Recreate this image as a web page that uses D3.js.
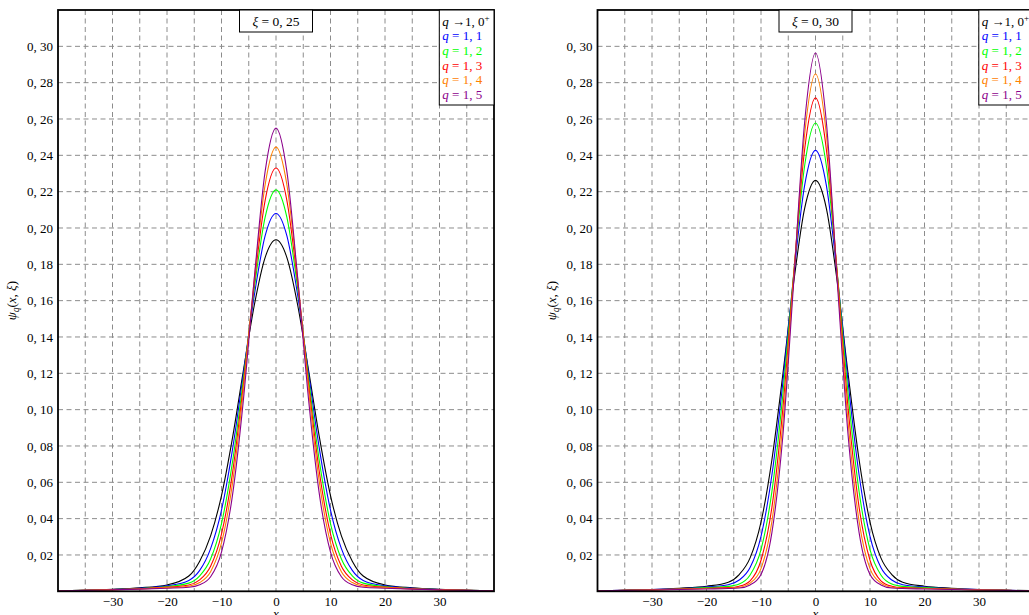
<!DOCTYPE html>
<html>
<head>
<meta charset="utf-8">
<script src="https://cdn.jsdelivr.net/npm/d3@7"></script>
<style>
  body { margin: 0; background: #fff; }
  svg text { font-family: "Liberation Serif", "DejaVu Serif", serif; }
</style>
</head>
<body>
<div class="chart"></div>
<script>
var svgWidth = 1029;
var svgHeight = 615;

// half-curves (x >= 0), the curves are symmetric about x = 0
var xs = [0, 2, 4, 6, 8, 10, 12, 14, 16, 20, 25, 30, 35, 40];

// xi = 0,25
var psi25_q10 = [0.1935, 0.1837, 0.1572, 0.1212, 0.0842, 0.0527, 0.0305, 0.0166, 0.0084, 0.0035, 0.0019, 0.0011, 0.0006, 0.0003];
var psi25_q11 = [0.2080, 0.1956, 0.1626, 0.1195, 0.0777, 0.0447, 0.0235, 0.0115, 0.0060, 0.0030, 0.0017, 0.0010, 0.0006, 0.0003];
var psi25_q12 = [0.2210, 0.2058, 0.1663, 0.1165, 0.0708, 0.0373, 0.0178, 0.0085, 0.0045, 0.0026, 0.0015, 0.0009, 0.0005, 0.0003];
var psi25_q13 = [0.2330, 0.2151, 0.1692, 0.1134, 0.0648, 0.0315, 0.0138, 0.0063, 0.0035, 0.0023, 0.0014, 0.0009, 0.0005, 0.0003];
var psi25_q14 = [0.2445, 0.2237, 0.1715, 0.1101, 0.0591, 0.0266, 0.0108, 0.0048, 0.0028, 0.0020, 0.0013, 0.0008, 0.0005, 0.0003];
var psi25_q15 = [0.2550, 0.2310, 0.1718, 0.1048, 0.0525, 0.0216, 0.0080, 0.0036, 0.0022, 0.0017, 0.0012, 0.0008, 0.0005, 0.0003];

// xi = 0,30
var psi30_q10 = [0.2262, 0.2107, 0.1701, 0.1192, 0.0724, 0.0381, 0.0184, 0.0092, 0.0050, 0.0028, 0.0017, 0.0010, 0.0006, 0.0003];
var psi30_q11 = [0.2427, 0.2233, 0.1739, 0.1147, 0.0640, 0.0303, 0.0131, 0.0062, 0.0036, 0.0024, 0.0015, 0.0009, 0.0005, 0.0003];
var psi30_q12 = [0.2578, 0.2341, 0.1751, 0.1080, 0.0549, 0.0230, 0.0090, 0.0040, 0.0027, 0.0020, 0.0013, 0.0008, 0.0005, 0.0003];
var psi30_q13 = [0.2716, 0.2431, 0.1744, 0.1003, 0.0462, 0.0171, 0.0058, 0.0028, 0.0020, 0.0017, 0.0012, 0.0008, 0.0005, 0.0003];
var psi30_q14 = [0.2849, 0.2514, 0.1728, 0.0925, 0.0385, 0.0125, 0.0045, 0.0022, 0.0017, 0.0015, 0.0011, 0.0008, 0.0005, 0.0003];
var psi30_q15 = [0.2963, 0.2580, 0.1703, 0.0852, 0.0323, 0.0093, 0.0035, 0.0018, 0.0015, 0.0013, 0.0010, 0.0007, 0.0005, 0.0003];

var qValues = ["1, 1", "1, 2", "1, 3", "1, 4", "1, 5"];
var seriesColors = ["#000000", "#0000ff", "#00ff00", "#ff0000", "#ff8000", "#8b008b"];

var yTicks = [0.02, 0.04, 0.06, 0.08, 0.10, 0.12, 0.14, 0.16, 0.18, 0.20, 0.22, 0.24, 0.26, 0.28, 0.30];
var xTicks = [-30, -20, -10, 0, 10, 20, 30];
var xGrid = [-35, -30, -25, -20, -15, -10, -5, 0, 5, 10, 15, 20, 25, 30, 35];

var panels = [
  { left: 58, xi: "0, 25", series: [psi25_q10, psi25_q11, psi25_q12, psi25_q13, psi25_q14, psi25_q15] },
  { left: 597.5, xi: "0, 30", series: [psi30_q10, psi30_q11, psi30_q12, psi30_q13, psi30_q14, psi30_q15] }
];

var plotTop = 10;
var width = 436;
var height = 581.3;

var svg = d3.select(".chart")
  .append("svg")
  .attr("width", svgWidth)
  .attr("height", svgHeight);

var fmtY = function(d) { return d3.format(".2f")(d).replace(".", ", "); };
var fmtX = function(d) { return d < 0 ? "\u2212" + Math.abs(d) : String(d); };

panels.forEach(function(p, pi) {
  var g = svg.append("g")
    .attr("transform", `translate(${p.left}, ${plotTop})`);

  var xScale = d3.scaleLinear().domain([-40, 40]).range([0, width]);
  var yScale = d3.scaleLinear().domain([0, 0.32]).range([height, 0]);

  // dashed grid
  g.append("g").selectAll("line")
    .data(xGrid)
    .enter()
    .append("line")
    .attr("x1", d => xScale(d)).attr("x2", d => xScale(d))
    .attr("y1", 0).attr("y2", height)
    .attr("stroke", "#8c8c8c")
    .attr("stroke-width", 1)
    .attr("stroke-dasharray", "5,3.5");

  g.append("g").selectAll("line")
    .data(yTicks)
    .enter()
    .append("line")
    .attr("x1", 0).attr("x2", width)
    .attr("y1", d => yScale(d)).attr("y2", d => yScale(d))
    .attr("stroke", "#8c8c8c")
    .attr("stroke-width", 1)
    .attr("stroke-dasharray", "5,3.5");

  // axes (labels only)
  var leftAxis = d3.axisLeft(yScale).tickValues(yTicks).tickFormat(fmtY).tickSize(0).tickPadding(5);
  var bottomAxis = d3.axisBottom(xScale).tickValues(xTicks).tickFormat(fmtX).tickSize(0).tickPadding(5);

  var ya = g.append("g").call(leftAxis);
  var xa = g.append("g").attr("transform", `translate(0, ${height})`).call(bottomAxis);
  [ya, xa].forEach(function(a) {
    a.select(".domain").remove();
    a.selectAll("text")
      .attr("font-size", 13)
      .attr("fill", "#000");
  });

  // curves
  g.append("clipPath").attr("id", "clip" + pi)
    .append("rect").attr("width", width).attr("height", height);

  var line = d3.line()
    .x(d => xScale(d[0]))
    .y(d => yScale(d[1]))
    .curve(d3.curveMonotoneX);

  var curves = p.series.map(function(vals) {
    var half = xs.map((x, i) => [x, vals[i]]);
    return half.slice(1).reverse().map(d => [-d[0], d[1]]).concat(half);
  });

  g.append("g").attr("clip-path", `url(#clip${pi})`)
    .selectAll("path")
    .data(curves)
    .enter()
    .append("path")
    .attr("d", line)
    .attr("fill", "none")
    .attr("stroke", (d, i) => seriesColors[i])
    .attr("stroke-width", 1.1);

  // frame
  g.append("rect")
    .attr("width", width).attr("height", height)
    .attr("fill", "none")
    .attr("stroke", "#000")
    .attr("stroke-width", 1.8);

  // title box
  var tb = g.append("g").attr("transform", `translate(${xScale(0)}, 0)`);
  tb.append("rect")
    .attr("x", -36.5).attr("y", 0)
    .attr("width", 73).attr("height", 22)
    .attr("fill", "#fff").attr("stroke", "#000").attr("stroke-width", 1);
  var tt = tb.append("text")
    .attr("y", 15.5)
    .attr("text-anchor", "middle")
    .attr("font-size", 13.5);
  tt.append("tspan").attr("font-style", "italic").text("\u03be");
  tt.append("tspan").text(" = " + p.xi);

  // legend
  var lg = g.append("g").attr("transform", `translate(${width - 54.7}, 0)`);
  lg.append("rect")
    .attr("width", 54.7).attr("height", 95)
    .attr("fill", "#fff").attr("stroke", "#000").attr("stroke-width", 1);
  var t0 = lg.append("text").attr("x", 3).attr("y", 15.5).attr("font-size", 13).attr("fill", seriesColors[0]);
  t0.append("tspan").attr("font-style", "italic").text("q");
  t0.append("tspan").text(" \u21921, 0");
  t0.append("tspan").attr("font-size", 9).attr("dy", -5).text("+");
  qValues.forEach(function(q, i) {
    var t = lg.append("text")
      .attr("x", 3).attr("y", 15.5 + (i + 1) * 14.7)
      .attr("font-size", 13)
      .attr("fill", seriesColors[i + 1]);
    t.append("tspan").attr("font-style", "italic").text("q");
    t.append("tspan").text(" = " + q);
  });

  // y label
  var yl = g.append("text")
    .attr("transform", `translate(-42, ${height / 2}) rotate(-90)`)
    .attr("text-anchor", "middle")
    .attr("font-size", 13);
  yl.append("tspan").attr("font-style", "italic").text("\u03c8");
  yl.append("tspan").attr("font-style", "italic").attr("font-size", 9.5).attr("dy", 3).text("q");
  yl.append("tspan").attr("dy", -3).text("(");
  yl.append("tspan").attr("font-style", "italic").text("x");
  yl.append("tspan").text(", ");
  yl.append("tspan").attr("font-style", "italic").text("\u03be");
  yl.append("tspan").text(")");

  // x label, partly below the page edge as in the reference
  g.append("text")
    .attr("x", xScale(0)).attr("y", height + 27)
    .attr("text-anchor", "middle")
    .attr("font-size", 13)
    .attr("font-style", "italic")
    .text("x");
});
</script>
</body>
</html>
